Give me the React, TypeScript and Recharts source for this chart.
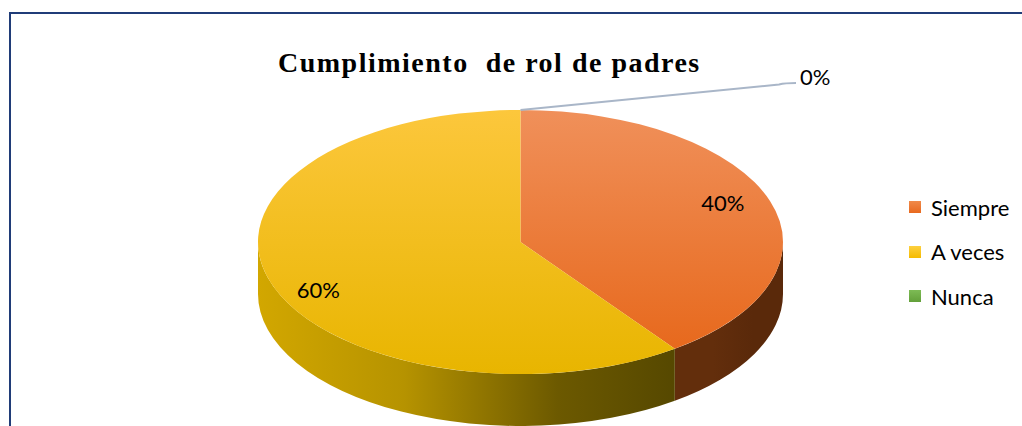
import { PieChart, Pie, Cell, Legend } from "recharts";

const categories = ["Siempre", "A veces", "Nunca"];
const values = [40, 60, 0];
const valueLabels = ["40%", "60%", "0%"];

// top face gradient [top, bottom], side gradient stops
const TOP_COLORS = [
  ["#f0905a", "#e7691d"],
  ["#fcc73c", "#e8b500"],
  ["#80bd55", "#5f9b36"],
];
const SIDE_COLORS = [
  ["#632e0c", "#5a290a"],
  ["#d2a700", "#564800"],
  ["#4d7a2a", "#2f4d18"],
];
const LEGEND_COLORS = [
  ["#f08a4a", "#e8691f"],
  ["#fdd040", "#f5bb00"],
  ["#7dbb55", "#63a03a"],
];

const data = categories.map((name, i) => ({ name, value: values[i] }));

const TILT = 0.503; // ellipse ry / rx
const DEPTH = 0.198; // extrusion / rx
const RAD = Math.PI / 180;

function pt(cx: number, cy: number, rx: number, ry: number, a: number) {
  return [cx + rx * Math.cos(a * RAD), cy - ry * Math.sin(a * RAD)];
}

// parts of [s..e] (descending) that face the viewer (lower half)
function frontRanges(s: number, e: number) {
  const out: number[][] = [];
  for (const k of [-360, 0, 360]) {
    const hi = k;
    const lo = -180 + k;
    const a = Math.min(s, hi);
    const b = Math.max(e, lo);
    if (a > b) out.push([a, b]);
  }
  return out;
}

function renderSlice(props: any) {
  const { cx, cy, outerRadius, startAngle, endAngle, midAngle, index } = props;
  const rx = outerRadius;
  const ry = outerRadius * TILT;
  const d = outerRadius * DEPTH;
  const span = Math.abs(startAngle - endAngle);

  if (span < 0.01) {
    // zero slice: leader line and label only
    const [tx, ty] = pt(cx, cy, rx, ry, midAngle);
    return (
      <g key={`z${index}`}>
        <path
          d={`M${tx},${ty} L${cx + rx - 4},${ty - 25.5} Q${cx + rx + 2},${ty - 27} ${cx + rx + 13},${ty - 27}`}
          fill="none"
          stroke="#a9b6c8"
          strokeWidth={2}
        />
        <text
          x={cx + rx + 17}
          y={ty - 33}
          dominantBaseline="central"
          textAnchor="start"
          fontFamily="Lato"
          fontSize={22}
          fill="#000"
        >
          {valueLabels[index]}
        </text>
      </g>
    );
  }

  const [x1, y1] = pt(cx, cy, rx, ry, startAngle);
  const [x2, y2] = pt(cx, cy, rx, ry, endAngle);
  const large = span > 180 ? 1 : 0;
  const topPath = `M${cx},${cy} L${x1},${y1} A${rx},${ry} 0 ${large} 1 ${x2},${y2} Z`;

  const sides = frontRanges(startAngle, endAngle).map(([a, b], j) => {
    const [ax, ay] = pt(cx, cy, rx, ry, a);
    const [bx, by] = pt(cx, cy, rx, ry, b);
    return (
      <path
        key={j}
        d={`M${ax},${ay} A${rx},${ry} 0 0 1 ${bx},${by} L${bx},${by + d} A${rx},${ry} 0 0 0 ${ax},${ay + d} Z`}
        fill={`url(#side${index})`}
      />
    );
  });

  const lx = cx + 0.81 * rx * Math.cos(midAngle * RAD);
  const ly = cy + 4 - 1.07 * ry * Math.sin(midAngle * RAD);

  return (
    <g key={`s${index}`}>
      <defs>
        <linearGradient id={`top${index}`} x1="0" y1="0" x2="0" y2="1">
          <stop offset="0%" stopColor={TOP_COLORS[index][0]} />
          <stop offset="100%" stopColor={TOP_COLORS[index][1]} />
        </linearGradient>
        <linearGradient id={`side${index}`} x1="0" y1="0" x2="1" y2="0">
          <stop offset="0%" stopColor={SIDE_COLORS[index][0]} />
          <stop offset="35%" stopColor={index === 1 ? "#b69300" : SIDE_COLORS[index][0]} />
          <stop offset="72%" stopColor={index === 1 ? "#6c5900" : SIDE_COLORS[index][1]} />
          <stop offset="100%" stopColor={SIDE_COLORS[index][1]} />
        </linearGradient>
      </defs>
      {sides}
      <path d={topPath} fill={`url(#top${index})`} />
      <text
        x={lx}
        y={ly}
        dominantBaseline="central"
        textAnchor="middle"
        fontFamily="Lato"
        fontSize={22}
        fill="#000"
      >
        {valueLabels[index]}
      </text>
    </g>
  );
}

function renderLegend() {
  return (
    <div style={{ display: "flex", flexDirection: "column" }}>
      {categories.map((c, i) => (
        <div
          key={c}
          style={{ display: "flex", alignItems: "center", height: 44.5 }}
        >
          <span
            style={{
              width: 12,
              height: 12,
              marginRight: 10,
              background: `linear-gradient(${LEGEND_COLORS[i][0]}, ${LEGEND_COLORS[i][1]})`,
            }}
          />
          <span style={{ fontFamily: "Lato", fontSize: 22, color: "#000" }}>
            {c}
          </span>
        </div>
      ))}
    </div>
  );
}

export default function App() {
  return (
    <div
      style={{
        position: "fixed",
        left: 0,
        top: 0,
        width: 1022,
        height: 426,
        overflow: "hidden",
        background: "#fff",
      }}
    >
      <div
        style={{
          position: "absolute",
          left: 9,
          top: 12,
          width: 1100,
          height: 500,
          borderTop: "2px solid #203c78",
          borderLeft: "2px solid #203c78",
        }}
      />
      <div
        style={{
          position: "absolute",
          left: 278,
          top: 48,
          fontFamily: "'Liberation Serif', 'Times New Roman', serif",
          fontWeight: "bold",
          fontSize: 28,
          letterSpacing: 1.5,
          whiteSpace: "pre",
          color: "#000",
          lineHeight: "30px",
        }}
      >
        Cumplimiento  de rol de padres
      </div>
      <div style={{ position: "absolute", left: 0, top: 0 }}>
        <PieChart width={1022} height={426} margin={{ top: 0, right: 0, bottom: 0, left: 0 }}>
          <Pie
            data={data}
            dataKey="value"
            nameKey="name"
            cx={520.5}
            cy={242}
            outerRadius={262.5}
            startAngle={90}
            endAngle={-270}
            stroke="none"
            label={renderSlice}
            labelLine={false}
            isAnimationActive={false}
          >
            {data.map((d) => (
              <Cell key={d.name} fill="transparent" stroke="none" />
            ))}
          </Pie>
          <Legend
            layout="vertical"
            align="right"
            verticalAlign="middle"
            content={renderLegend}
            wrapperStyle={{ position: "absolute", left: 909, top: 185, width: 113 }}
          />
        </PieChart>
      </div>
    </div>
  );
}
